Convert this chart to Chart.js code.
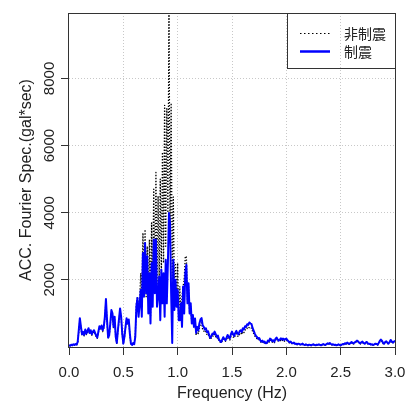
<!DOCTYPE html>
<html>
<head>
<meta charset="utf-8">
<script src="https://cdn.jsdelivr.net/npm/chart.js@4"></script>
<style>
html,body{margin:0;padding:0;background:#fff;}
#wrap{width:405px;height:403px;}
</style>
</head>
<body>
<div id="wrap"><canvas id="c" width="405" height="403"></canvas></div>
<script>
// Frequencies (Hz)
const freq = [
0.00,0.01,0.02,0.03,0.04,0.05,0.06,0.07,0.08,0.09,
0.10,0.11,0.12,0.13,0.14,0.15,0.16,0.17,0.18,0.19,
0.20,0.21,0.22,0.23,0.24,0.25,0.26,0.27,0.28,0.29,
0.30,0.31,0.32,0.33,0.34,0.35,0.36,0.37,0.38,0.39,
0.40,0.41,0.42,0.43,0.44,0.45,0.46,0.47,0.48,0.49,
0.50,0.51,0.52,0.53,0.54,0.55,0.56,0.57,0.58,0.59,
0.60,0.61,0.62,0.63,0.64,0.65,0.66,0.67,0.68,0.69,
0.70,0.71,0.72,0.73,0.74,0.75,0.76,0.77,0.78,0.79,
0.80,0.81,0.82,0.83,0.84,0.85,0.86,0.87,0.88,0.89,
0.90,0.91,0.92,0.93,0.94,0.95,0.96,0.97,0.98,0.99,
1.00,1.01,1.02,1.03,1.04,1.05,1.06,1.07,1.08,1.09,
1.10,1.11,1.12,1.13,1.14,1.15,1.16,1.17,1.18,1.19,
1.20,1.21,1.22,1.23,1.24,1.25,1.26,1.27,1.28,1.29,
1.30,1.31,1.32,1.33,1.34,1.35,1.36,1.37,1.38,1.39,
1.40,1.41,1.42,1.43,1.44,1.45,1.46,1.47,1.48,1.49,
1.50,1.51,1.52,1.53,1.54,1.55,1.56,1.57,1.58,1.59,
1.60,1.61,1.62,1.63,1.64,1.65,1.66,1.67,1.68,1.69,
1.70,1.71,1.72,1.73,1.74,1.75,1.76,1.77,1.78,1.79,
1.80,1.81,1.82,1.83,1.84,1.85,1.86,1.87,1.88,1.89,
1.90,1.91,1.92,1.93,1.94,1.95,1.96,1.97,1.98,1.99,
2.00,2.01,2.02,2.03,2.04,2.05,2.06,2.07,2.08,2.09,
2.10,2.11,2.12,2.13,2.14,2.15,2.16,2.17,2.18,2.19,
2.20,2.21,2.22,2.23,2.24,2.25,2.26,2.27,2.28,2.29,
2.30,2.31,2.32,2.33,2.34,2.35,2.36,2.37,2.38,2.39,
2.40,2.41,2.42,2.43,2.44,2.45,2.46,2.47,2.48,2.49,
2.50,2.51,2.52,2.53,2.54,2.55,2.56,2.57,2.58,2.59,
2.60,2.61,2.62,2.63,2.64,2.65,2.66,2.67,2.68,2.69,
2.70,2.71,2.72,2.73,2.74,2.75,2.76,2.77,2.78,2.79,
2.80,2.81,2.82,2.83,2.84,2.85,2.86,2.87,2.88,2.89,
2.90,2.91,2.92,2.93,2.94,2.95,2.96,2.97,2.98,2.99,
3.00
];
// 非制震 (non-damped), gal*sec
const nonDamped = [
50,35,60,45,70,55,80,60,130,450,
800,560,350,420,330,480,370,440,520,390,
470,350,420,460,390,310,260,420,580,520,
600,460,560,850,1380,760,260,320,650,1050,
950,560,850,280,110,460,780,1100,850,370,
90,280,560,820,660,760,370,90,50,100,
100,350,1300,1500,1100,1400,2200,1500,3400,1700,
3500,1500,3000,1400,3200,900,3700,1600,4700,2000,
5200,1800,4500,2000,5000,2200,5800,2500,7200,3000,
7100,4000,9950,3500,7270,2000,4470,1500,2500,1300,
2500,1000,1800,900,1500,1800,2000,2700,2700,1400,
1800,1000,1200,700,850,600,700,350,500,400,
560,700,720,520,480,430,460,360,380,290,
230,270,330,310,380,310,250,280,180,150,
120,180,240,190,170,230,300,250,210,310,
380,320,270,350,400,330,310,390,420,370,
460,430,510,500,560,540,600,580,560,460,
400,330,270,250,210,220,170,130,160,120,
130,90,100,160,140,210,190,140,170,130,
200,230,190,160,180,210,180,210,170,200,
210,170,140,120,130,100,90,110,80,80,
70,80,80,60,70,80,60,50,70,50,
45,60,50,45,60,70,50,45,60,50,
70,50,45,60,80,60,50,80,90,80,
100,80,60,70,50,60,45,50,70,50,
45,60,80,70,90,90,110,90,80,100,
130,100,90,120,140,160,150,110,90,120,
140,100,90,110,130,90,80,90,60,70,
50,70,90,80,60,100,150,190,160,100,
90,130,150,110,90,130,180,150,110,140,
160
];
// 制震 (damped), gal*sec
const damped = [
60,40,70,50,80,60,90,70,150,500,
860,600,380,450,360,520,400,480,560,420,
500,380,460,500,420,340,280,450,620,560,
640,500,600,900,1430,800,280,350,700,1100,
1000,600,900,300,120,500,830,1150,900,400,
100,300,600,860,700,820,400,100,60,120,
80,300,1200,1460,900,1260,1700,900,2800,1500,
3100,1600,2700,1000,2200,700,2500,1200,3200,1600,
3200,1200,1500,2100,800,2300,1300,2200,900,2600,
1300,2500,3990,3700,1600,120,2600,1100,2000,1200,
1700,800,800,1300,600,1800,1000,2200,2450,1300,
1900,1000,1300,700,950,600,850,420,600,500,
700,820,860,650,600,520,560,440,470,350,
270,330,400,380,460,380,300,340,220,180,
150,220,290,230,200,280,360,300,260,380,
460,380,330,420,480,400,380,470,500,450,
560,520,620,600,680,660,730,700,680,560,
480,400,330,300,250,270,200,160,190,140,
160,110,120,190,170,250,230,170,200,160,
240,280,230,190,220,260,220,250,210,240,
250,200,170,140,160,120,110,130,90,100,
80,100,90,70,80,100,70,60,80,60,
50,70,60,50,70,80,60,50,70,60,
80,60,50,70,90,70,60,90,110,90,
120,90,70,80,60,70,50,60,80,60,
50,70,90,80,110,100,130,110,90,120,
150,120,110,140,160,190,170,130,110,140,
160,120,100,130,150,110,90,100,70,80,
60,80,100,90,70,120,180,220,190,120,
100,150,170,130,100,150,210,170,130,160,
190
];
const seriesLabels = ['非制震', '制震'];
const xTicks = [0, 0.5, 1.0, 1.5, 2.0, 2.5, 3.0];
const yTicks = [2000, 4000, 6000, 8000];
const xTitle = 'Frequency (Hz)';
const yTitle = 'ACC. Fourier Spec.(gal*sec)';

const FONT = "'Liberation Sans', Arial, sans-serif";
const CJK = "'Noto Sans CJK JP', 'Noto Sans CJK SC', sans-serif";

const framePlugin = {
  id: 'frame',
  afterDatasetsDraw(chart) {
    const {ctx, chartArea: a} = chart;
    ctx.save();
    ctx.strokeStyle = '#333';
    ctx.lineWidth = 1;
    ctx.strokeRect(a.left - 0.5, a.top + 0.5, a.right - a.left + 1, a.bottom - a.top);
    ctx.restore();
  }
};

const legendPlugin = {
  id: 'boxLegend',
  afterDatasetsDraw(chart) {
    const {ctx, chartArea: a} = chart;
    const x0 = 287.5, y0 = a.top + 0.5, w = a.right - 287, h = 55;
    ctx.save();
    ctx.strokeStyle = '#333';
    ctx.lineWidth = 1;
    ctx.strokeRect(x0, y0, w, h);
    const ds = chart.data.datasets;
    const rows = [33, 51];
    ds.forEach((d, i) => {
      ctx.beginPath();
      ctx.setLineDash(i === 0 ? [1.5, 2.5] : []);
      ctx.strokeStyle = d.borderColor;
      ctx.lineWidth = i === 0 ? 1.2 : 2.5;
      ctx.moveTo(300, rows[i] + 0.5);
      ctx.lineTo(330, rows[i] + 0.5);
      ctx.stroke();
      ctx.setLineDash([]);
      ctx.fillStyle = '#222';
      ctx.font = "14px " + CJK;
      ctx.textBaseline = 'middle';
      ctx.textAlign = 'left';
      ctx.fillText(d.label, 344, rows[i] + 1);
    });
    ctx.restore();
  }
};

new Chart(document.getElementById('c'), {
  type: 'line',
  data: {
    datasets: [
      {
        label: seriesLabels[0],
        data: freq.map((f, i) => ({x: f, y: nonDamped[i]})),
        borderColor: '#000000',
        borderWidth: 1.3,
        borderDash: [1.3, 1.7],
        pointRadius: 0,
        tension: 0,
        borderJoinStyle: 'round',
        order: 1
      },
      {
        label: seriesLabels[1],
        data: freq.map((f, i) => ({x: f, y: damped[i]})),
        borderColor: '#0000ff',
        borderWidth: 2,
        pointRadius: 0,
        tension: 0,
        borderJoinStyle: 'round',
        order: 0
      }
    ]
  },
  options: {
    responsive: false,
    animation: false,
    events: [],
    layout: {padding: {top: 13, right: 10, left: 0, bottom: 0}},
    plugins: {legend: {display: false}, tooltip: {enabled: false}},
    scales: {
      x: {
        type: 'linear',
        min: 0, max: 3,
        afterBuildTicks: s => { s.ticks = xTicks.map(v => ({value: v})); },
        afterFit: s => { s.height = 56; s.paddingLeft = 0; s.paddingRight = 0; },
        ticks: {
          callback: v => Number(v).toFixed(1),
          color: '#222',
          font: {family: FONT, size: 15},
          padding: 9,
          maxRotation: 0, minRotation: 0
        },
        grid: {
          color: c => (c.tick && (c.tick.value === 0 || c.tick.value === 3)) ? 'rgba(0,0,0,0)' : '#c8c8c8',
          tickColor: '#333',
          tickLength: 8,
          tickBorderDash: [],
          lineWidth: 1
        },
        border: {display: false, dash: [1, 2]},
        title: {
          display: true, text: xTitle, color: '#222',
          font: {family: FONT, size: 16},
          padding: {top: 0, bottom: 0}
        }
      },
      y: {
        min: 0, max: 9950,
        afterBuildTicks: s => { s.ticks = yTicks.map(v => ({value: v})); },
        afterFit: s => { s.width = 69; s.paddingTop = 0; s.paddingBottom = 0; },
        ticks: {
          callback: v => String(v),
          color: '#222',
          font: {family: FONT, size: 15},
          minRotation: 90, maxRotation: 90,
          crossAlign: 'center',
          padding: -6
        },
        grid: {
          color: '#c8c8c8',
          tickColor: '#333',
          tickLength: 8,
          tickBorderDash: [],
          lineWidth: 1
        },
        border: {display: false, dash: [1, 2]},
        title: {
          display: true, text: yTitle, color: '#222',
          font: {family: FONT, size: 16},
          padding: {top: 17, bottom: 0}
        }
      }
    }
  },
  plugins: [framePlugin, legendPlugin]
});
</script>
</body>
</html>
